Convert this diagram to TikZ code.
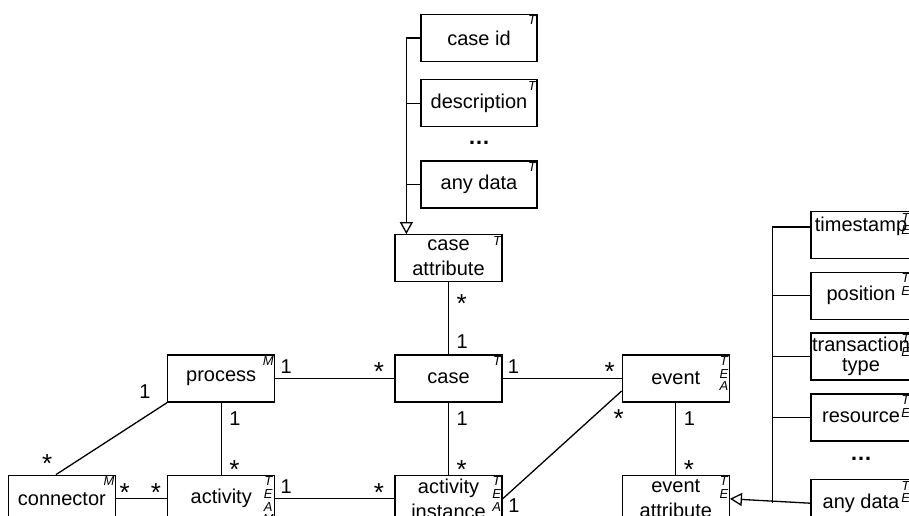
\documentclass[tikz,border=0pt]{standalone}
\usepackage{fontspec}
\setmainfont{Liberation Sans}
\usetikzlibrary{arrows.meta, positioning}

\newcommand{\multstar}{\raisebox{-7.4pt}[14.3pt][0pt]{\fontsize{26}{26}\selectfont *}}

\begin{document}
\begin{tikzpicture}[
		x=1pt, y=-1pt,
		every node/.style={font=\fontsize{20}{25}\selectfont},
		entity/.style={rectangle, draw, line width=1.3pt, minimum width=107pt, minimum height=47pt, inner sep=0pt, align=center},
		attrbox/.style={entity, minimum width=116pt},
		evbox/.style={entity, minimum width=100pt},
		tag/.style={font=\fontsize{13}{12.7}\selectfont\itshape, inner sep=0pt, align=center, anchor=north east, xshift=-1.5pt, yshift=-2pt},
		more/.style={inner sep=0pt, font=\fontsize{22}{22}\selectfont\bfseries},
		mult/.style={inner sep=1pt},
		assoc/.style={line width=1.3pt},
		isa/.style={line width=1.3pt, -{Triangle[open, length=12pt, width=13pt]}},
		node distance=12.5pt
		]
		\useasboundingbox (0,0) rectangle (909,515);
		\clip (0,0) rectangle (909,515);

		% core classes
		\node [entity, label={[tag]north east:T}] (case) at (448.5,378.5) {case};
		\node [entity, label={[tag]north east:M}] (process) [left=119pt of case] {process};
		\node [entity, label={[tag]north east:T\\E\\A}] (event) [right=119pt of case] {event};
		\node [entity, label={[tag]north east:T}] (caseattr) [above=72pt of case] {case\\attribute};
		\node [entity, label={[tag]north east:T\\E\\A}] (actinst) [below=72pt of case] {activity\\instance};
		\node [entity, label={[tag]north east:T\\E\\A\\M}] (activity) [below=72pt of process] {activity};
		\node [entity, label={[tag]north east:T\\E}] (eventattr) [below=72pt of event] {event\\attribute};
		\node [entity, label={[tag]north east:M}] (connector) [left=51pt of activity] {connector};

		% case attributes
		\node [attrbox, label={[tag]north east:T}] (caseid) at (479,38) {case id};
		\node [attrbox, label={[tag]north east:T}] (descr) [below=17pt of caseid] {description};
		\node [more] (cdots) [below=14pt of descr] {\ldots};
		\node [attrbox, label={[tag]north east:T}] (canydata) [below=33pt of descr] {any data};

		% event attributes
		\node [evbox, label={[tag]north east:T\\E}] (tstamp) at (861,235) {timestamp\\[-4pt]{}};
		\node [evbox, label={[tag]north east:T\\E}] (position) [below=of tstamp] {position};
		\node [evbox, label={[tag]north east:T\\E}] (trtype) [below=of position] {transaction\\[-5pt]type};
		\node [evbox, label={[tag]north east:T\\E}] (resource) [below=of trtype] {resource};
		\node [more] (edots) [below=15pt of resource] {\ldots};
		\node [evbox, label={[tag]north east:T\\E}] (eanydata) [below=37.5pt of resource] {any data};

		% generalisations
		\coordinate (ctrunk) at ([xshift=12pt]caseattr.north west);
		\draw [isa] (caseid.west) -| (ctrunk);
		\draw [assoc] (descr.west) -- (descr.west -| ctrunk);
		\draw [assoc] (canydata.west) -- (canydata.west -| ctrunk);

		\coordinate (etrunk) at ([xshift=-38pt, yshift=8pt]tstamp.west);
		\draw [assoc] ([yshift=8pt]tstamp.west) -- (etrunk) -- (etrunk |- eanydata.west);
		\draw [assoc] (position.west) -- (position.west -| etrunk);
		\draw [assoc] (trtype.west) -- (trtype.west -| etrunk);
		\draw [assoc] (resource.west) -- (resource.west -| etrunk);
		\draw [isa] (eanydata.west) -- (eventattr.east);

		% associations
		\draw [assoc] (process) -- node [mult, pos=0.09, above=3.5pt] {1} node [mult, pos=0.87, above=3.5pt] {\multstar} (case);
		\draw [assoc] (case) -- node [mult, pos=0.09, above=3.5pt] {1} node [mult, pos=0.9, above=3.5pt] {\multstar} (event);
		\draw [assoc] (caseattr) -- node [mult, pos=0.21, right=6.5pt] {\multstar} node [mult, pos=0.82, right=6.5pt] {1} (case);
		\draw [assoc] (case) -- node [mult, pos=0.22, right=6.5pt] {1} node [mult, pos=0.85, right=6.5pt] {\multstar} (actinst);
		\draw [assoc] (process) -- node [mult, pos=0.22, right=6.5pt] {1} node [mult, pos=0.85, right=6.5pt] {\multstar} (activity);
		\draw [assoc] (event) -- node [mult, pos=0.22, right=6.5pt] {1} node [mult, pos=0.85, right=6.5pt] {\multstar} (eventattr);
		\draw [assoc] (connector) -- node [mult, pos=0.17, above=3.5pt] {\multstar} node [mult, pos=0.78, above=3.5pt] {\multstar} (activity);
		\draw [assoc] (activity) -- node [mult, pos=0.09, above=3.5pt] {1} node [mult, pos=0.87, above=3.5pt] {\multstar} (actinst);
		\draw [assoc] (process.south west) -- node [mult, at start, above left=3pt and 15pt] {1} node [mult, at end, above left=8pt and 2pt] {\multstar} ([xshift=-6pt]connector.north);
		\draw [assoc] (actinst.east) -- node [mult, at start, right=4pt, yshift=-6.5pt] {1} node [mult, at end, below=13pt, xshift=-3pt] {\multstar} ([yshift=-12.5pt]event.west);
\end{tikzpicture}
\end{document}
